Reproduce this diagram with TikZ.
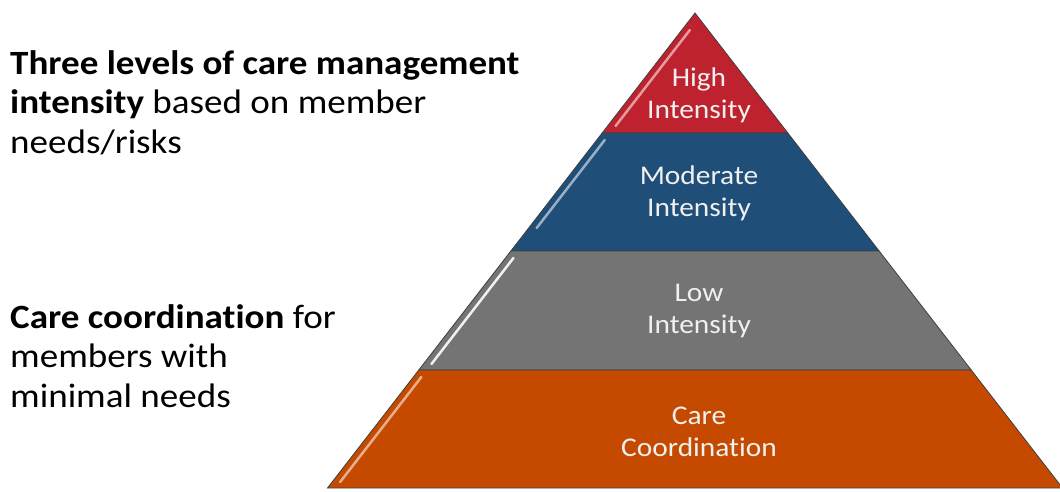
\documentclass[tikz,border=0pt]{standalone}
\usepackage{fontspec}
\setmainfont{Carlito}[FakeStretch=1.09,Ligatures={NoCommon,NoRequired,NoContextual}]
\usetikzlibrary{calc}
\definecolor{hired}{RGB}{190,34,46}
\definecolor{modblue}{RGB}{31,78,121}
\definecolor{lowgrey}{RGB}{116,116,116}
\definecolor{coordorange}{RGB}{197,74,0}
\def\layer[#1](#2:#3){\filldraw[fill=#1,draw=black!75,line width=0.8pt] ({\apx-\kk*(#2-\topy)},#2) -- ({\apx+\kk*(#2-\topy)},#2) -- ({\apx+\kk*(#3-\topy)},#3) -- ({\apx-\kk*(#3-\topy)},#3) -- cycle;}
\def\gloss[#1](#2:#3){\draw[#1,line width=2.5pt,line cap=round] ({\apx-\kk*(#2-\topy)+8},#2) -- ({\apx-\kk*(#3-\topy)+8},#3);}
\tikzset{
	lbl/.style={text=white!94!black,align=center,inner sep=0pt,font=\fontsize{27}{32}\selectfont},
	sidetxt/.style={anchor=north west,align=left,inner sep=0pt,font=\fontsize{34}{39.5}\selectfont}
}

\begin{document}
\begin{tikzpicture}[x=1pt,y=-1pt]
			%%%%% START %%%%%
			\def\apx{695}
			\def\topy{13}
			\def\kk{0.7737}
			\def\yone{133}
			\def\ytwo{251}
			\def\ythree{370}
			\def\basey{488}
			\def\lx{699}
			
			\useasboundingbox (0,0) rectangle (1060,491);
			
			\layer[hired](\topy:\yone)
			\layer[modblue](\yone:\ytwo)
			\layer[lowgrey](\ytwo:\ythree)
			\layer[coordorange](\ythree:\basey)
			
			\gloss[hired!45!white](30:126)
			\gloss[modblue!45!white](140:228)
			\gloss[white!90!lowgrey](258:364)
			\gloss[coordorange!45!white](377:482)
			
			\node[lbl] (hi) at (\lx,95) {High\\Intensity};
			\node[lbl] (mod) at (\lx,193) {Moderate\\Intensity};
			\node[lbl] (low) at (\lx,311) {Low\\Intensity};
			\node[lbl] (coord) at (\lx,432) {Care\\Coordination};
			
			\node[sidetxt] (levels) at (10,50) {\textbf{Three levels of care management}\\\textbf{intensity} based on member\\needs/risks};
			\node[sidetxt] (minimal) at (10,304) {\textbf{Care coordination} for\\members with\\minimal needs};
			%%%%% END %%%%%
\end{tikzpicture}
\end{document}
